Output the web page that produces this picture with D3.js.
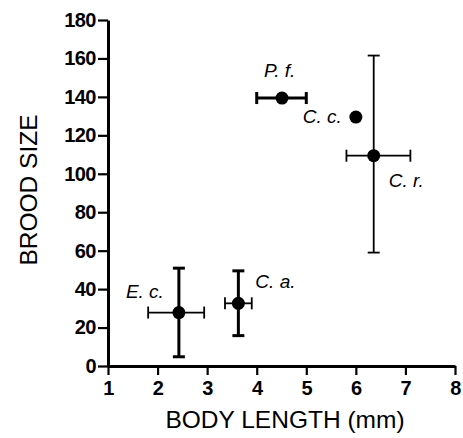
<!DOCTYPE html>
<html>
<head>
<meta charset="utf-8">
<script src="https://cdn.jsdelivr.net/npm/d3@7"></script>
<style>
  body { margin: 0; background: #fff; }
  text { font-family: "Liberation Sans", Arial, Helvetica, sans-serif; }
</style>
</head>
<body>
<svg id="chart" width="463" height="438"></svg>
<script>
// species and values
var species = ["E. c.", "C. a.", "P. f.", "C. c.", "C. r."];
var bodyLength = [2.43, 3.63, 4.51, 6.0, 6.36];
var bodyLow = [1.81, 3.36, 4.0, null, 5.81];
var bodyHigh = [2.94, 3.90, 5.0, null, 7.1];
var brood = [27.8, 32.6, 139.4, 129.5, 109.4];
var broodLow = [4.8, 15.8, null, null, 59];
var broodHigh = [50.9, 49.5, null, null, 161.5];
var xTicks = [1, 2, 3, 4, 5, 6, 7, 8];
var yTicks = [0, 20, 40, 60, 80, 100, 120, 140, 160, 180];

var svg = d3.select("#chart");

var x = d3.scaleLinear().domain([1, 8]).range([108, 455]);
var y = d3.scaleLinear().domain([0, 180]).range([366, 20]);

// line weights of the error bars (thick or thin, as in the figure)
var vWidth = { "E. c.": 3, "C. a.": 3, "P. f.": 2, "C. c.": 2, "C. r.": 1.8 };
var hWidth = { "E. c.": 1.8, "C. a.": 1.8, "P. f.": 3, "C. c.": 2, "C. r.": 1.8 };
// where each name sits relative to its point
var labelOff = {
    "E. c.": [-53, -15],
    "C. a.": [17, -15],
    "P. f.": [-18, -21],
    "C. c.": [-53, 6],
    "C. r.": [15, 31]
};
var cap = 6;

// axes
var xAxis = svg.append("g")
    .attr("transform", "translate(0," + y(0) + ")")
    .call(d3.axisBottom(x).tickValues(xTicks).tickFormat(d3.format("d"))
        .tickSize(9).tickPadding(6).tickSizeOuter(0));
var yAxis = svg.append("g")
    .attr("transform", "translate(" + x(1) + ",0)")
    .call(d3.axisLeft(y).tickValues(yTicks).tickFormat(d3.format("d"))
        .tickSize(10).tickPadding(2).tickSizeOuter(0));

[xAxis, yAxis].forEach(function (a) {
    a.select(".domain").attr("stroke", "#000").attr("stroke-width", 3);
    a.selectAll(".tick line").attr("stroke", "#000").attr("stroke-width", 2.2);
    a.selectAll(".tick text")
        .attr("fill", "#000")
        .style("font-size", "20px")
        .style("font-weight", "bold")
        .style("letter-spacing", "-0.5px");
});

// axis titles
svg.append("text")
    .attr("x", 285)
    .attr("y", 428)
    .attr("text-anchor", "middle")
    .style("font-size", "24.5px")
    .text("BODY LENGTH (mm)");

svg.append("text")
    .attr("transform", "translate(37,190) rotate(-90)")
    .attr("text-anchor", "middle")
    .style("font-size", "24.5px")
    .text("BROOD SIZE");

// error bars
species.forEach(function (s, i) {
    var g = svg.append("g").attr("stroke", "#000");
    if (broodLow[i] != null) {
        var w = vWidth[s];
        g.append("line")
            .attr("x1", x(bodyLength[i])).attr("x2", x(bodyLength[i]))
            .attr("y1", y(broodLow[i])).attr("y2", y(broodHigh[i]))
            .attr("stroke-width", w);
        [broodLow[i], broodHigh[i]].forEach(function (v) {
            g.append("line")
                .attr("x1", x(bodyLength[i]) - cap).attr("x2", x(bodyLength[i]) + cap)
                .attr("y1", y(v)).attr("y2", y(v))
                .attr("stroke-width", w);
        });
    }
    if (bodyLow[i] != null) {
        var hw = hWidth[s];
        g.append("line")
            .attr("x1", x(bodyLow[i])).attr("x2", x(bodyHigh[i]))
            .attr("y1", y(brood[i])).attr("y2", y(brood[i]))
            .attr("stroke-width", hw);
        [bodyLow[i], bodyHigh[i]].forEach(function (v) {
            g.append("line")
                .attr("x1", x(v)).attr("x2", x(v))
                .attr("y1", y(brood[i]) - cap).attr("y2", y(brood[i]) + cap)
                .attr("stroke-width", hw);
        });
    }
});

// points
svg.selectAll(".dot")
    .data(species)
    .enter()
    .append("circle")
    .attr("class", "dot")
    .attr("cx", function (d, i) { return x(bodyLength[i]); })
    .attr("cy", function (d, i) { return y(brood[i]); })
    .attr("r", 6.5)
    .attr("fill", "#000");

// species names
svg.selectAll(".name")
    .data(species)
    .enter()
    .append("text")
    .attr("class", "name")
    .attr("x", function (d, i) { return x(bodyLength[i]) + labelOff[d][0]; })
    .attr("y", function (d, i) { return y(brood[i]) + labelOff[d][1]; })
    .style("font-size", "19px")
    .style("font-style", "italic")
    .text(function (d) { return d; });
</script>
</body>
</html>
